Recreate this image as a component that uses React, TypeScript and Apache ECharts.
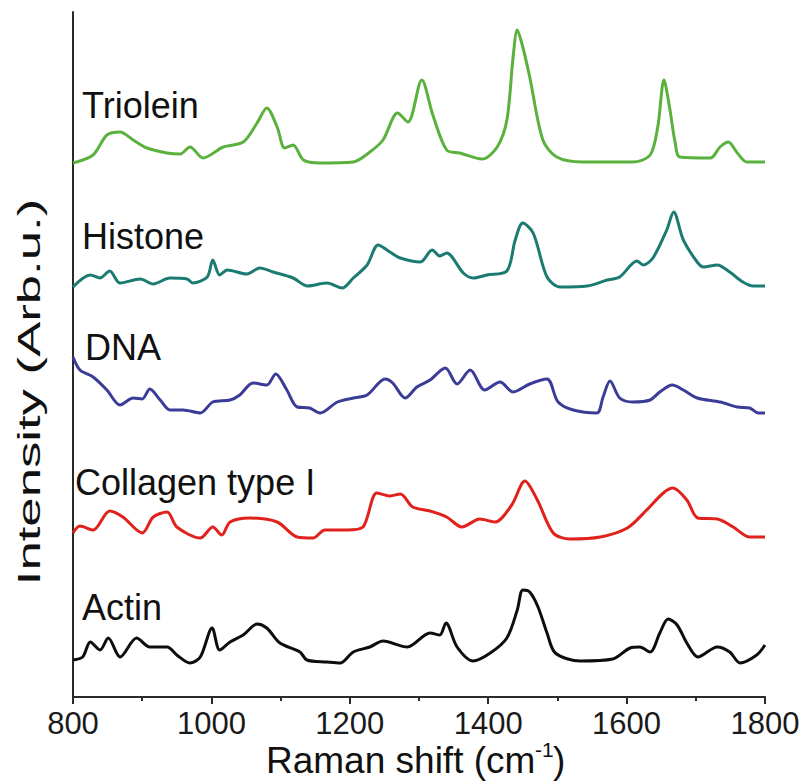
import React, { useEffect, useRef } from "react";
import * as echarts from "echarts";

// Raman shift (cm^-1) and intensity (arb. u., stacked with offsets)
const trioleinX = [800, 829, 849, 868, 887, 907, 936, 955, 969, 988, 1017, 1046, 1066, 1080, 1095, 1106, 1118, 1133, 1157, 1205, 1229, 1248, 1269, 1284, 1304, 1320, 1340, 1359, 1391, 1413, 1427, 1436, 1442, 1450, 1460, 1479, 1499, 1537, 1609, 1634, 1645, 1654, 1662, 1670, 1677, 1721, 1735, 1747, 1760, 1774, 1800];
const trioleinY = [534, 542, 562, 565, 557, 549, 544, 543, 550, 539, 550, 555, 574, 589, 570, 549, 552, 537, 534, 535, 545, 557, 584, 575, 617, 582, 547, 544, 538, 550, 577, 640, 667, 650, 620, 557, 540, 535, 535, 542, 570, 617, 590, 555, 540, 539, 550, 555, 544, 535, 535];

const histoneX = [800, 825, 839, 853, 868, 897, 916, 940, 965, 973, 994, 1002, 1012, 1023, 1051, 1070, 1089, 1118, 1139, 1167, 1189, 1205, 1225, 1241, 1258, 1273, 1302, 1319, 1330, 1340, 1364, 1378, 1398, 1427, 1439, 1450, 1465, 1485, 1504, 1543, 1572, 1590, 1615, 1624, 1638, 1658, 1668, 1682, 1702, 1711, 1731, 1749, 1768, 1783, 1800];
const histoneY = [410, 422, 419, 426, 414, 418, 413, 419, 418, 414, 420, 437, 422, 427, 423, 429, 425, 419, 411, 414, 409, 419, 432, 452, 445, 439, 435, 447, 441, 444, 424, 419, 422, 426, 457, 474, 464, 420, 410, 411, 417, 420, 436, 432, 439, 467, 485, 457, 435, 430, 432, 425, 415, 411, 411];

const dnaX = [800, 810, 829, 849, 868, 887, 900, 911, 926, 940, 959, 984, 1002, 1027, 1041, 1060, 1080, 1093, 1109, 1124, 1142, 1157, 1182, 1205, 1225, 1251, 1262, 1280, 1297, 1316, 1338, 1355, 1374, 1395, 1417, 1436, 1460, 1485, 1501, 1523, 1557, 1566, 1576, 1590, 1609, 1634, 1648, 1666, 1682, 1702, 1735, 1760, 1778, 1790, 1800];
const dnaY = [340, 327, 320, 307, 292, 299, 298, 308, 297, 287, 287, 284, 295, 297, 302, 314, 312, 323, 307, 290, 289, 284, 295, 299, 302, 318, 314, 299, 310, 317, 329, 313, 327, 307, 315, 305, 313, 318, 295, 287, 284, 300, 316, 299, 295, 297, 305, 312, 307, 299, 295, 290, 289, 284, 284];

const collagenX = [800, 810, 829, 853, 872, 900, 916, 936, 950, 984, 1002, 1015, 1027, 1056, 1095, 1124, 1147, 1164, 1196, 1219, 1239, 1258, 1273, 1291, 1316, 1340, 1362, 1388, 1410, 1434, 1453, 1471, 1494, 1518, 1562, 1601, 1629, 1653, 1667, 1687, 1703, 1731, 1754, 1778, 1800];
const collagenY = [164, 171, 167, 186, 180, 164, 180, 185, 170, 159, 170, 162, 175, 179, 175, 160, 159, 167, 167, 170, 204, 201, 203, 190, 186, 180, 170, 178, 175, 192, 216, 197, 164, 158, 160, 169, 187, 204, 209, 197, 179, 178, 170, 160, 160];

const actinX = [800, 814, 825, 839, 851, 868, 892, 911, 936, 950, 969, 984, 1001, 1012, 1027, 1046, 1066, 1080, 1099, 1128, 1138, 1167, 1186, 1205, 1229, 1248, 1283, 1316, 1330, 1339, 1355, 1378, 1403, 1427, 1442, 1450, 1460, 1472, 1485, 1497, 1533, 1580, 1605, 1619, 1634, 1648, 1660, 1673, 1687, 1703, 1731, 1749, 1764, 1788, 1800];
const actinY = [37, 40, 55, 47, 59, 40, 59, 50, 50, 42, 34, 40, 69, 47, 55, 62, 73, 69, 54, 45, 37, 35, 34, 45, 50, 56, 50, 64, 62, 74, 50, 36, 44, 59, 87, 107, 105, 90, 64, 44, 36, 38, 49, 50, 45, 64, 78, 72, 54, 40, 50, 45, 34, 42, 52];

const seriesNames = ["Triolein", "Histone", "DNA", "Collagen type I", "Actin"];
const seriesColors = ["#5bb13d", "#1b7b72", "#3b3b98", "#e0211c", "#0d0d0d"];
const xTicks = [800, 1000, 1200, 1400, 1600, 1800];

const zip = (xs: number[], ys: number[]) => xs.map((x, i) => [x, ys[i]]);

export default function App() {
  const ref = useRef<HTMLDivElement>(null);
  useEffect(() => {
    if (!ref.current) return;
    const chart = echarts.init(ref.current, null, { renderer: "svg" });
    const datasets = [
      zip(trioleinX, trioleinY),
      zip(histoneX, histoneY),
      zip(dnaX, dnaY),
      zip(collagenX, collagenY),
      zip(actinX, actinY),
    ];
    const labelPos = [
      [82, 123],
      [82, 254],
      [85, 365],
      [75, 500],
      [82, 625],
    ];
    const font = "'Liberation Sans', Arial, sans-serif";
    chart.setOption({
      animation: false,
      backgroundColor: "#ffffff",
      grid: { left: 73, right: 34, top: 12, bottom: 85, outerBoundsMode: "none", containLabel: false },
      xAxis: {
        type: "value",
        min: xTicks[0],
        max: xTicks[xTicks.length - 1],
        interval: 200,
        axisLine: { show: true, lineStyle: { color: "#2a2a2a", width: 2 } },
        axisTick: { show: true, length: 7, lineStyle: { color: "#2a2a2a", width: 2 } },
        minorTick: { show: true, splitNumber: 2, length: 4, lineStyle: { color: "#2a2a2a", width: 2 } },
        splitLine: { show: false },
        axisLabel: {
          fontFamily: font,
          fontSize: 31,
          color: "#1a1a1a",
          margin: 11,
          formatter: (v: number) => String(v),
        },
      },
      yAxis: {
        type: "value",
        min: 0,
        max: 685,
        axisLine: { show: true, lineStyle: { color: "#2a2a2a", width: 2 } },
        axisTick: { show: false },
        axisLabel: { show: false },
        splitLine: { show: false },
      },
      series: datasets.map((d, i) => ({
        name: seriesNames[i],
        type: "line",
        data: d,
        smooth: 0.3,
        showSymbol: false,
        symbol: "none",
        clip: false,
        lineStyle: { color: seriesColors[i], width: 3 },
        itemStyle: { color: seriesColors[i] },
        z: 2,
      })),
      graphic: [
        ...seriesNames.map((n, i) => ({
          type: "text",
          x: labelPos[i][0],
          y: labelPos[i][1],
          style: {
            text: n,
            font: "36px " + font,
            fill: "#111111",
            textVerticalAlign: "bottom",
            textAlign: "left",
          },
        })),
        {
          type: "text",
          x: 29,
          y: 392,
          rotation: Math.PI / 2,
          scaleX: 1.7,
          style: {
            text: "Intensity (Arb.u.)",
            font: "31px " + font,
            fill: "#111111",
            textAlign: "center",
            textVerticalAlign: "middle",
          },
        },
        {
          type: "text",
          x: 266,
          y: 779,
          style: {
            text: "Raman shift (cm",
            font: "37px " + font,
            fill: "#111111",
            textAlign: "left",
            textVerticalAlign: "bottom",
          },
        },
        {
          type: "text",
          x: 535,
          y: 760,
          style: {
            text: "-1",
            font: "21px " + font,
            fill: "#111111",
            textAlign: "left",
            textVerticalAlign: "bottom",
          },
        },
        {
          type: "text",
          x: 553,
          y: 779,
          style: {
            text: ")",
            font: "37px " + font,
            fill: "#111111",
            textAlign: "left",
            textVerticalAlign: "bottom",
          },
        },
      ],
    });
    return () => chart.dispose();
  }, []);
  return <div ref={ref} style={{ width: 799, height: 782, position: "absolute", left: 0, top: 0 }} />;
}
